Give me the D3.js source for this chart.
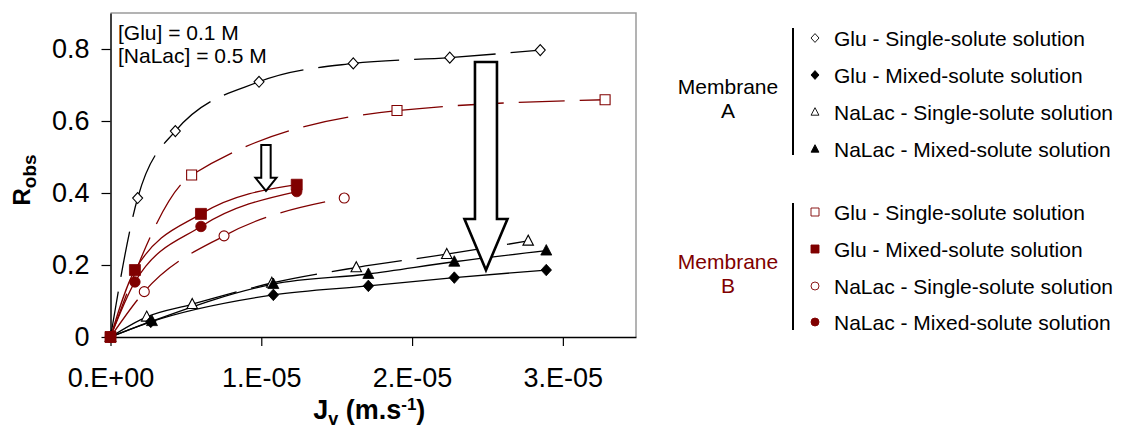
<!DOCTYPE html>
<html>
<head>
<meta charset="utf-8">
<script src="https://cdn.jsdelivr.net/npm/d3@7/dist/d3.min.js"></script>
<style>
  html, body { margin: 0; padding: 0; background: #fff; }
  svg { display: block; font-family: "Liberation Sans", Arial, sans-serif; }
</style>
</head>
<body>
<svg id="chart" width="1121" height="431"></svg>
<script>
// ---------- DATA ----------
// Membrane A
const jvGluSingleA   = [0, 1.80e-6, 4.30e-6, 9.85e-6, 1.61e-5, 2.25e-5, 2.85e-5];
const rGluSingleA    = [0, 0.386, 0.572, 0.709, 0.760, 0.776, 0.797];
const jvGluMixedA    = [0, 2.67e-6, 1.08e-5, 1.71e-5, 2.28e-5, 2.89e-5];
const rGluMixedA     = [0, 0.042, 0.117, 0.142, 0.165, 0.186];
const jvNaLacSingleA = [0, 2.40e-6, 5.42e-6, 1.07e-5, 1.63e-5, 2.23e-5, 2.77e-5];
const rNaLacSingleA  = [0, 0.056, 0.091, 0.150, 0.193, 0.230, 0.267];
const jvNaLacMixedA  = [0, 2.75e-6, 1.08e-5, 1.71e-5, 2.28e-5, 2.89e-5];
const rNaLacMixedA   = [0, 0.044, 0.147, 0.175, 0.209, 0.240];
// Membrane B
const jvGluSingleB   = [0, 5.38e-6, 1.90e-5, 3.28e-5];
const rGluSingleB    = [0, 0.450, 0.629, 0.659];
const jvGluMixedB    = [0, 1.62e-6, 6.00e-6, 1.235e-5];
const rGluMixedB     = [0, 0.186, 0.342, 0.423];
const jvNaLacSingleB = [0, 2.24e-6, 7.53e-6, 1.55e-5];
const rNaLacSingleB  = [0, 0.126, 0.281, 0.386];
const jvNaLacMixedB  = [0, 1.62e-6, 6.00e-6, 1.235e-5];
const rNaLacMixedB   = [0, 0.153, 0.307, 0.404];

// Axis ticks
const xTickValues = [0, 1e-5, 2e-5, 3e-5];
const xTickLabels = ["0.E+00", "1.E-05", "2.E-05", "3.E-05"];
const yTickValues = [0, 0.2, 0.4, 0.6, 0.8];
const yTickLabels = ["0", "0.2", "0.4", "0.6", "0.8"];

// Legend
const legendLabels = ["Glu - Single-solute solution", "Glu - Mixed-solute solution",
                      "NaLac - Single-solute solution", "NaLac - Mixed-solute solution"];
const annotationLines = ["[Glu] = 0.1 M", "[NaLac] = 0.5 M"];

// Arrows (data coordinates)
const arrowJv   = [1.031e-5, 2.49e-5];
const arrowTop  = [0.533, 0.764];
const arrowTip  = [0.406, 0.186];

// ---------- STYLE ----------
const RED = "#800000";
const BLACK = "#000";

const series = [
  {jv: jvGluSingleA,   r: rGluSingleA,   color: BLACK, shape: "diamond",  fill: false, dashed: true},
  {jv: jvNaLacSingleA, r: rNaLacSingleA, color: BLACK, shape: "triangle", fill: false, dashed: true},
  {jv: jvGluMixedA,    r: rGluMixedA,    color: BLACK, shape: "diamond",  fill: true,  dashed: false},
  {jv: jvNaLacMixedA,  r: rNaLacMixedA,  color: BLACK, shape: "triangle", fill: true,  dashed: false},
  {jv: jvGluSingleB,   r: rGluSingleB,   color: RED,   shape: "square",   fill: false, dashed: true},
  {jv: jvNaLacSingleB, r: rNaLacSingleB, color: RED,   shape: "circle",   fill: false, dashed: true},
  {jv: jvNaLacMixedB,  r: rNaLacMixedB,  color: RED,   shape: "circle",   fill: true,  dashed: false},
  {jv: jvGluMixedB,    r: rGluMixedB,    color: RED,   shape: "square",   fill: true,  dashed: false},
];

const svg = d3.select("#chart");

const plot = {left: 110.5, right: 636, top: 13, bottom: 337};
const x = d3.scaleLinear().domain([0, 3.485e-5]).range([plot.left, plot.right]);
const y = d3.scaleLinear().domain([0, 0.9]).range([plot.bottom, plot.top]);

// plot frame (top/right grey)
svg.append("path")
  .attr("d", `M${plot.left},${plot.top}H${plot.right}V${plot.bottom}`)
  .attr("fill", "none").attr("stroke", "#9a9a9a").attr("stroke-width", 1.5);

// axes
const yAxis = d3.axisLeft(y).tickValues(yTickValues)
  .tickFormat((d, i) => yTickLabels[i]).tickSize(9).tickSizeOuter(0).tickPadding(12);
const xAxis = d3.axisBottom(x).tickValues(xTickValues)
  .tickFormat((d, i) => xTickLabels[i]).tickSize(9).tickSizeOuter(0).tickPadding(22);

const gy = svg.append("g").attr("transform", `translate(${plot.left},0)`).call(yAxis);
const gx = svg.append("g").attr("transform", `translate(0,${plot.bottom})`).call(xAxis);
[gx, gy].forEach(g => {
  g.select(".domain").attr("stroke", "#000").attr("stroke-width", 1.5);
  g.selectAll(".tick line").attr("stroke", "#000").attr("stroke-width", 1.2);
  g.selectAll(".tick text").attr("fill", "#000")
    .style("font-family", '"Liberation Sans", Arial, sans-serif').style("font-size", "27px");
});

// axis titles
const xt = svg.append("text").attr("x", (plot.left + plot.right) / 2 - 4).attr("y", 419)
  .attr("text-anchor", "middle").style("font-size", "27px").style("font-weight", "bold");
xt.append("tspan").text("J");
xt.append("tspan").text("v").style("font-size", "18px").attr("dy", 6);
xt.append("tspan").text(" (m.s").attr("dy", -6);
xt.append("tspan").text("-1").style("font-size", "17px").attr("dy", -9);
xt.append("tspan").text(")").attr("dy", 9);

const yt = svg.append("text").attr("transform", "translate(30,180) rotate(-90)")
  .attr("text-anchor", "middle").style("font-size", "24px").style("font-weight", "bold");
yt.append("tspan").text("R");
yt.append("tspan").text("obs").style("font-size", "19px").attr("dy", 6);

// ---------- lines ----------
function segmentPaths(pts) {
  const segs = []; let cx = 0, cy = 0;
  const ctx = {
    moveTo(a, b) { cx = a; cy = b; },
    lineTo(a, b) { segs.push(`M${cx},${cy}L${a},${b}`); cx = a; cy = b; },
    bezierCurveTo(a1, b1, a2, b2, a, b) {
      segs.push(`M${cx},${cy}C${a1},${b1},${a2},${b2},${a},${b}`); cx = a; cy = b;
    },
    closePath() {}
  };
  d3.line().x(d => x(d[0])).y(d => y(d[1])).curve(d3.curveMonotoneX).context(ctx)(pts);
  return segs;
}

const lineG = svg.append("g");
series.forEach(s => {
  const pts = s.jv.map((v, i) => [v, s.r[i]]);
  const segs = segmentPaths(pts);
  lineG.selectAll(null).data(segs).enter().append("path")
    .attr("d", d => d)
    .attr("fill", "none")
    .attr("stroke", s.color)
    .attr("stroke-width", 1.3)
    .attr("stroke-dasharray", s.dashed ? "46,15" : null);
});

// ---------- markers ----------
function shapePath(shape, size) {
  const h = size / 2;
  if (shape === "diamond") return `M0,${-h * 1.1}L${h},0L0,${h * 1.1}L${-h},0Z`;
  if (shape === "square") return `M${-h},${-h}H${h}V${h}H${-h}Z`;
  if (shape === "triangle") return `M0,${-h * 1.15}L${h * 1.05},${h * 0.85}L${-h * 1.05},${h * 0.85}Z`;
  if (shape === "circle") return `M${h},0A${h},${h} 0 1,1 ${-h},0A${h},${h} 0 1,1 ${h},0Z`;
  return "";
}

const markG = svg.append("g");
series.forEach(s => {
  const pts = s.jv.map((v, i) => [v, s.r[i]]);
  const sz = s.fill ? (s.shape === "square" ? 11 : 10.5) : 10;
  markG.selectAll(null).data(pts).enter().append("path")
    .attr("transform", d => `translate(${x(d[0])},${y(d[1])})`)
    .attr("d", shapePath(s.shape, sz))
    .attr("fill", s.fill ? s.color : "#fff")
    .attr("stroke", s.color)
    .attr("stroke-width", s.fill ? 0.8 : 1.1);
});

// ---------- arrows ----------
const arrowDims = [
  {shaftHalf: 4.7, headHalf: 10.5, headLen: 13, sw: 2},
  {shaftHalf: 11, headHalf: 21.5, headLen: 51, sw: 2.6}
];
arrowJv.forEach((jv, i) => {
  const cx = x(jv), yt0 = y(arrowTop[i]), ytip = y(arrowTip[i]);
  const d = arrowDims[i];
  const yb = ytip - d.headLen;
  const p = `M${cx - d.shaftHalf},${yt0}H${cx + d.shaftHalf}V${yb}H${cx + d.headHalf}` +
            `L${cx},${ytip}L${cx - d.headHalf},${yb}H${cx - d.shaftHalf}Z`;
  svg.append("path").attr("d", p).attr("fill", "#fff").attr("stroke", "#000")
    .attr("stroke-width", d.sw).attr("stroke-linejoin", "miter");
});

// ---------- annotation ----------
svg.append("g").selectAll("text").data(annotationLines).enter().append("text")
  .attr("x", 118).attr("y", (d, i) => 40 + i * 23)
  .style("font-size", "21px").attr("fill", "#000").text(d => d);

// ---------- legend ----------
const legendGroups = [
  {title: ["Membrane", "A"], color: "#000", top: 28, bottom: 155, rowY: [38, 75, 112, 149],
   items: series.filter(s => s.color === BLACK)},
  {title: ["Membrane", "B"], color: RED, top: 203, bottom: 330, rowY: [212, 249, 286, 322],
   items: series.filter(s => s.color === RED)}
];
// order legend items: glu single, glu mixed, nalac single, nalac mixed
function orderItems(items) {
  const key = s => (s.shape === "diamond" || s.shape === "square" ? 0 : 2) + (s.fill ? 1 : 0);
  return items.slice().sort((a, b) => key(a) - key(b));
}
legendGroups.forEach(g => {
  const lg = svg.append("g");
  lg.append("line").attr("x1", 793).attr("x2", 793).attr("y1", g.top).attr("y2", g.bottom)
    .attr("stroke", "#000").attr("stroke-width", 2);
  const midY = (g.top + g.bottom) / 2;
  lg.selectAll("text.title").data(g.title).enter().append("text").attr("class", "title")
    .attr("x", 728).attr("y", (d, i) => midY + 2 + i * 24)
    .attr("text-anchor", "middle").style("font-size", "21px").attr("fill", g.color).text(d => d);
  const items = orderItems(g.items);
  items.forEach((s, i) => {
    const yy = g.rowY[i];
    lg.append("path").attr("transform", `translate(815,${yy})`)
      .attr("d", shapePath(s.shape, s.shape === "triangle" ? 7.5 : 8))
      .attr("fill", s.fill ? s.color : "#fff").attr("stroke", s.color).attr("stroke-width", 0.9);
    lg.append("text").attr("x", 834).attr("y", yy + 7.5)
      .style("font-size", "21px").attr("fill", "#000").text(legendLabels[i]);
  });
});
</script>
</body>
</html>
